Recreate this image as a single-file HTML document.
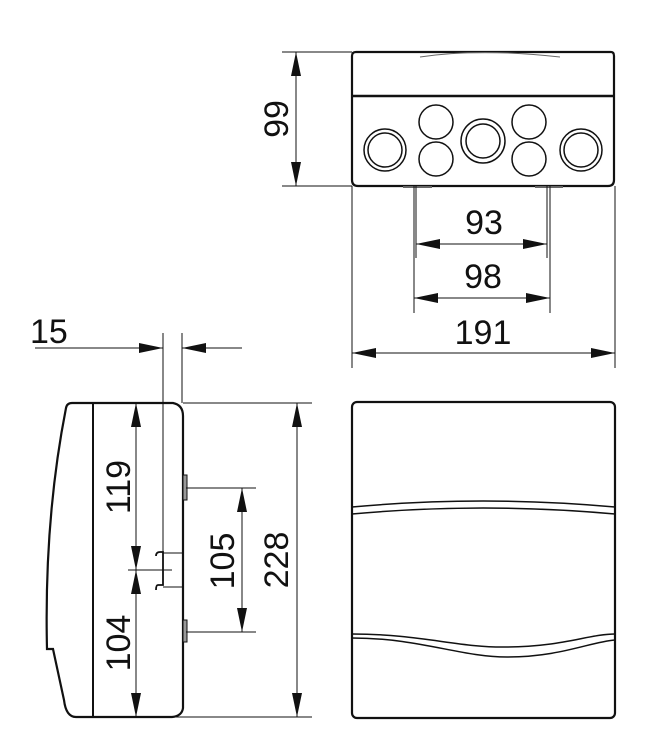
<!DOCTYPE html>
<html><head><style>html,body{margin:0;padding:0;background:#fff}svg{display:block}text{font-family:"Liberation Sans",Arial,sans-serif;font-size:34px;fill:#111}</style></head>
<body>
<svg width="653" height="750" viewBox="0 0 653 750" xmlns="http://www.w3.org/2000/svg">
<defs>
<marker id="a" markerWidth="24" markerHeight="12" refX="24" refY="6" orient="auto" markerUnits="userSpaceOnUse"><path d="M0,1 L24,6 L0,11 Z" fill="#111"/></marker>
<marker id="b" markerWidth="24" markerHeight="12" refX="0" refY="6" orient="auto" markerUnits="userSpaceOnUse"><path d="M24,1 L0,6 L24,11 Z" fill="#111"/></marker>
</defs>
<g fill="none" stroke="#111">
<path d="M356,52 H611 Q614,52 614,56 V180 Q614,186 608,186 H358 Q352,186 352,180 V56 Q352,52 356,52 Z" stroke-width="2.2"/>
<line x1="352" y1="96" x2="614" y2="96" stroke-width="2.5"/>
<path d="M420,57 Q480,48 560,57" stroke-width="1" stroke="#666"/>
<circle cx="385" cy="150" r="21" stroke-width="1.5"/><circle cx="385" cy="150" r="17" stroke-width="1.5"/>
<circle cx="436" cy="122" r="17" stroke-width="1.5"/><circle cx="436" cy="159" r="17" stroke-width="1.5"/>
<circle cx="483" cy="141" r="22" stroke-width="1.5"/><circle cx="483" cy="141" r="17" stroke-width="1.5"/>
<circle cx="529" cy="122" r="17" stroke-width="1.5"/><circle cx="529" cy="159" r="17" stroke-width="1.5"/>
<circle cx="581" cy="150" r="21" stroke-width="1.5"/><circle cx="581" cy="150" r="17" stroke-width="1.5"/>
<line x1="403" y1="187" x2="432" y2="187" stroke-width="2" stroke="#666"/>
<line x1="535" y1="187" x2="563" y2="187" stroke-width="2" stroke="#666"/>
<g stroke-width="1">
<line x1="282" y1="52" x2="352" y2="52"/><line x1="282" y1="186" x2="352" y2="186"/>
<line x1="296" y1="52" x2="296" y2="186" marker-start="url(#b)" marker-end="url(#a)"/>
<line x1="416" y1="186" x2="416" y2="258"/><line x1="547" y1="186" x2="547" y2="258"/>
<line x1="416" y1="244" x2="547" y2="244" marker-start="url(#b)" marker-end="url(#a)"/>
<line x1="414" y1="186" x2="414" y2="313"/><line x1="550" y1="186" x2="550" y2="313"/>
<line x1="414" y1="298" x2="550" y2="298" marker-start="url(#b)" marker-end="url(#a)"/>
<line x1="352" y1="186" x2="352" y2="368"/><line x1="615" y1="186" x2="615" y2="368"/>
<line x1="352" y1="353" x2="615" y2="353" marker-start="url(#b)" marker-end="url(#a)"/>
</g>
<path d="M72,403 H173 Q183,405 183,416 V708 Q182,716 172,717 H76 Q66,717 64,700 L53,649 H47 Q44,520 66,408 Q67,403 72,403 Z" stroke-width="2.2"/>
<line x1="93" y1="403" x2="93" y2="717" stroke-width="2"/>
<rect x="183" y="475" width="4" height="25" stroke-width="1" fill="#999"/>
<rect x="183" y="620" width="4" height="22" stroke-width="1" fill="#999"/>
<path d="M156,556 Q156,552 160,552 H163 V585 H158 Q156,585 156,590" stroke-width="1.8"/>
<g stroke-width="1">
<line x1="163" y1="333" x2="163" y2="585"/><line x1="182" y1="333" x2="182" y2="403"/>
<line x1="163" y1="553" x2="182" y2="553"/><line x1="163" y1="587" x2="182" y2="587"/>
<line x1="35" y1="348" x2="163" y2="348" marker-end="url(#a)"/>
<line x1="242" y1="348" x2="182" y2="348" marker-end="url(#a)"/>
<line x1="128" y1="570" x2="172" y2="570"/>
<line x1="136" y1="403" x2="136" y2="570" marker-start="url(#b)" marker-end="url(#a)"/>
<line x1="136" y1="570" x2="136" y2="717" marker-start="url(#b)" marker-end="url(#a)"/>
<line x1="186" y1="488" x2="256" y2="488"/><line x1="186" y1="632" x2="256" y2="632"/>
<line x1="242" y1="488" x2="242" y2="632" marker-start="url(#b)" marker-end="url(#a)"/>
<line x1="183" y1="403" x2="312" y2="403"/><line x1="175" y1="717" x2="312" y2="717"/>
<line x1="297" y1="403" x2="297" y2="717" marker-start="url(#b)" marker-end="url(#a)"/>
</g>
<rect x="352" y="402" width="263" height="316" rx="5" stroke-width="2.2"/>
<path d="M352,507 Q483,495 615,507" stroke-width="1.5"/>
<path d="M352,514 Q483,502 615,514" stroke-width="1.5"/>
<path d="M352,634 C420,634 460,648 507,647 C560,647 590,634 615,634" stroke-width="1.5"/>
<path d="M352,638 C420,638 460,657 507,657 C560,657 590,642 615,640" stroke-width="1.5"/>
</g>
<text x="484" y="234" text-anchor="middle">93</text>
<text x="483" y="288" text-anchor="middle">98</text>
<text x="483" y="344" text-anchor="middle">191</text>
<text x="30" y="343">15</text>
<text transform="translate(288,119) rotate(-90)" text-anchor="middle">99</text>
<text transform="translate(130,487) rotate(-90)" text-anchor="middle">119</text>
<text transform="translate(130,643) rotate(-90)" text-anchor="middle">104</text>
<text transform="translate(234,561) rotate(-90)" text-anchor="middle">105</text>
<text transform="translate(288,560) rotate(-90)" text-anchor="middle">228</text>
</svg>
</body></html>
